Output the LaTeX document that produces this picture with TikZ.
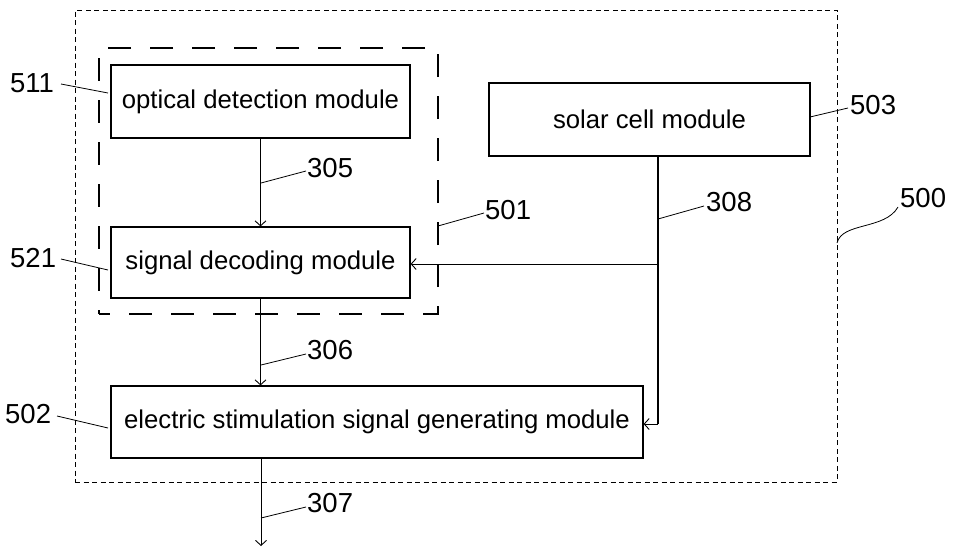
\documentclass[tikz,border=0pt]{standalone}
\usepackage{fontspec}
\setmainfont{Liberation Sans}
\usetikzlibrary{arrows.meta,calc}
\begin{document}
\begin{tikzpicture}[x=1pt,y=-1pt,
  modbox/.style={draw, line width=1.2pt, inner sep=0pt, font=\fontsize{25.7}{28}\selectfont},
  numlab/.style={inner sep=0pt, anchor=west, font=\fontsize{27.5}{30}\selectfont},
  outerbox/.style={draw, line width=1pt, dash pattern=on 5pt off 3.5pt, inner sep=0pt},
  innerbox/.style={draw, line width=2pt, dash pattern=on 23pt off 19pt, dash phase=12pt, inner sep=0pt},
  conn/.style={line width=0.9pt, -{Straight Barb[length=5pt,width=11pt]}},
  power/.style={line width=1.4pt},
  leader/.style={line width=0.8pt}]
\useasboundingbox (0,0) rectangle (956,547);
% containers
\node[outerbox, minimum width=762pt, minimum height=472pt] (sys) at (456,246) {};
\node[innerbox, minimum width=339pt, minimum height=266pt] (grp) at (268.5,181) {};
% modules
\node[modbox, minimum width=299pt, minimum height=73pt] (odm) at (260.5,101.5) {optical detection module};
\node[modbox, minimum width=299pt, minimum height=71pt] (sdm) at (260.5,262.5) {signal decoding module};
\node[modbox, minimum width=321pt, minimum height=73pt] (scm) at (649.5,119.5) {solar cell module};
\node[modbox, minimum width=532pt, minimum height=72pt] (esm) at (377,422) {electric stimulation signal generating module};
% connectors
\draw[conn] (odm.south) -- (sdm.north);
\draw[conn] (sdm.south) -- (sdm.south |- esm.north);
\coordinate (out) at (261,546);
\draw[conn] (out |- esm.south) -- (out);
\coordinate (sc) at (658,156);
\coordinate (br) at (658,264);
\coordinate (bt) at (658,424);
\draw[power] (sc) -- (bt);
\draw[conn] (bt) -- (esm.east |- bt);
\draw[conn] (br) -- (sdm.east |- br);
% labels
\node[numlab] (l511) at (10,83) {511};
\node[numlab] (l521) at (10,258) {521};
\node[numlab] (l502) at (5,414) {502};
\node[numlab] (l305) at (307,168) {305};
\node[numlab] (l306) at (307,350) {306};
\node[numlab] (l307) at (307,503) {307};
\node[numlab] (l501) at (485,210) {501};
\node[numlab] (l308) at (706,202) {308};
\node[numlab] (l503) at (850,105) {503};
\node[numlab] (l500) at (900,198) {500};
% leader lines
\newcommand{\leadline}[2]{%
  \draw[leader] (#1) .. controls ($(#1)!0.75!(#2)$ |- #1) and ($(#1)!0.25!(#2)$ |- #2) .. (#2);}
\coordinate (a511) at (61,84);   \coordinate (b511) at (108,93);
\coordinate (a521) at (61,259);  \coordinate (b521) at (108,270);
\coordinate (a502) at (57,416);  \coordinate (b502) at (108,428);
\coordinate (a305) at (261,183); \coordinate (b305) at (306,171);
\coordinate (a306) at (261,365); \coordinate (b306) at (306,354);
\coordinate (a307) at (261,518); \coordinate (b307) at (306,507);
\coordinate (a501) at (438,226); \coordinate (b501) at (484,213);
\coordinate (a308) at (658,219); \coordinate (b308) at (704,206);
\coordinate (a503) at (810,117); \coordinate (b503) at (848,108);
\coordinate (a500) at (837,243); \coordinate (b500) at (898,207);
\leadline{a511}{b511}
\leadline{a521}{b521}
\leadline{a502}{b502}
\leadline{a305}{b305}
\leadline{a306}{b306}
\leadline{a307}{b307}
\leadline{a501}{b501}
\leadline{a308}{b308}
\leadline{a503}{b503}
\draw[leader] (a500) .. controls (842,222) and (885,230) .. (b500);
\end{tikzpicture}
\end{document}
